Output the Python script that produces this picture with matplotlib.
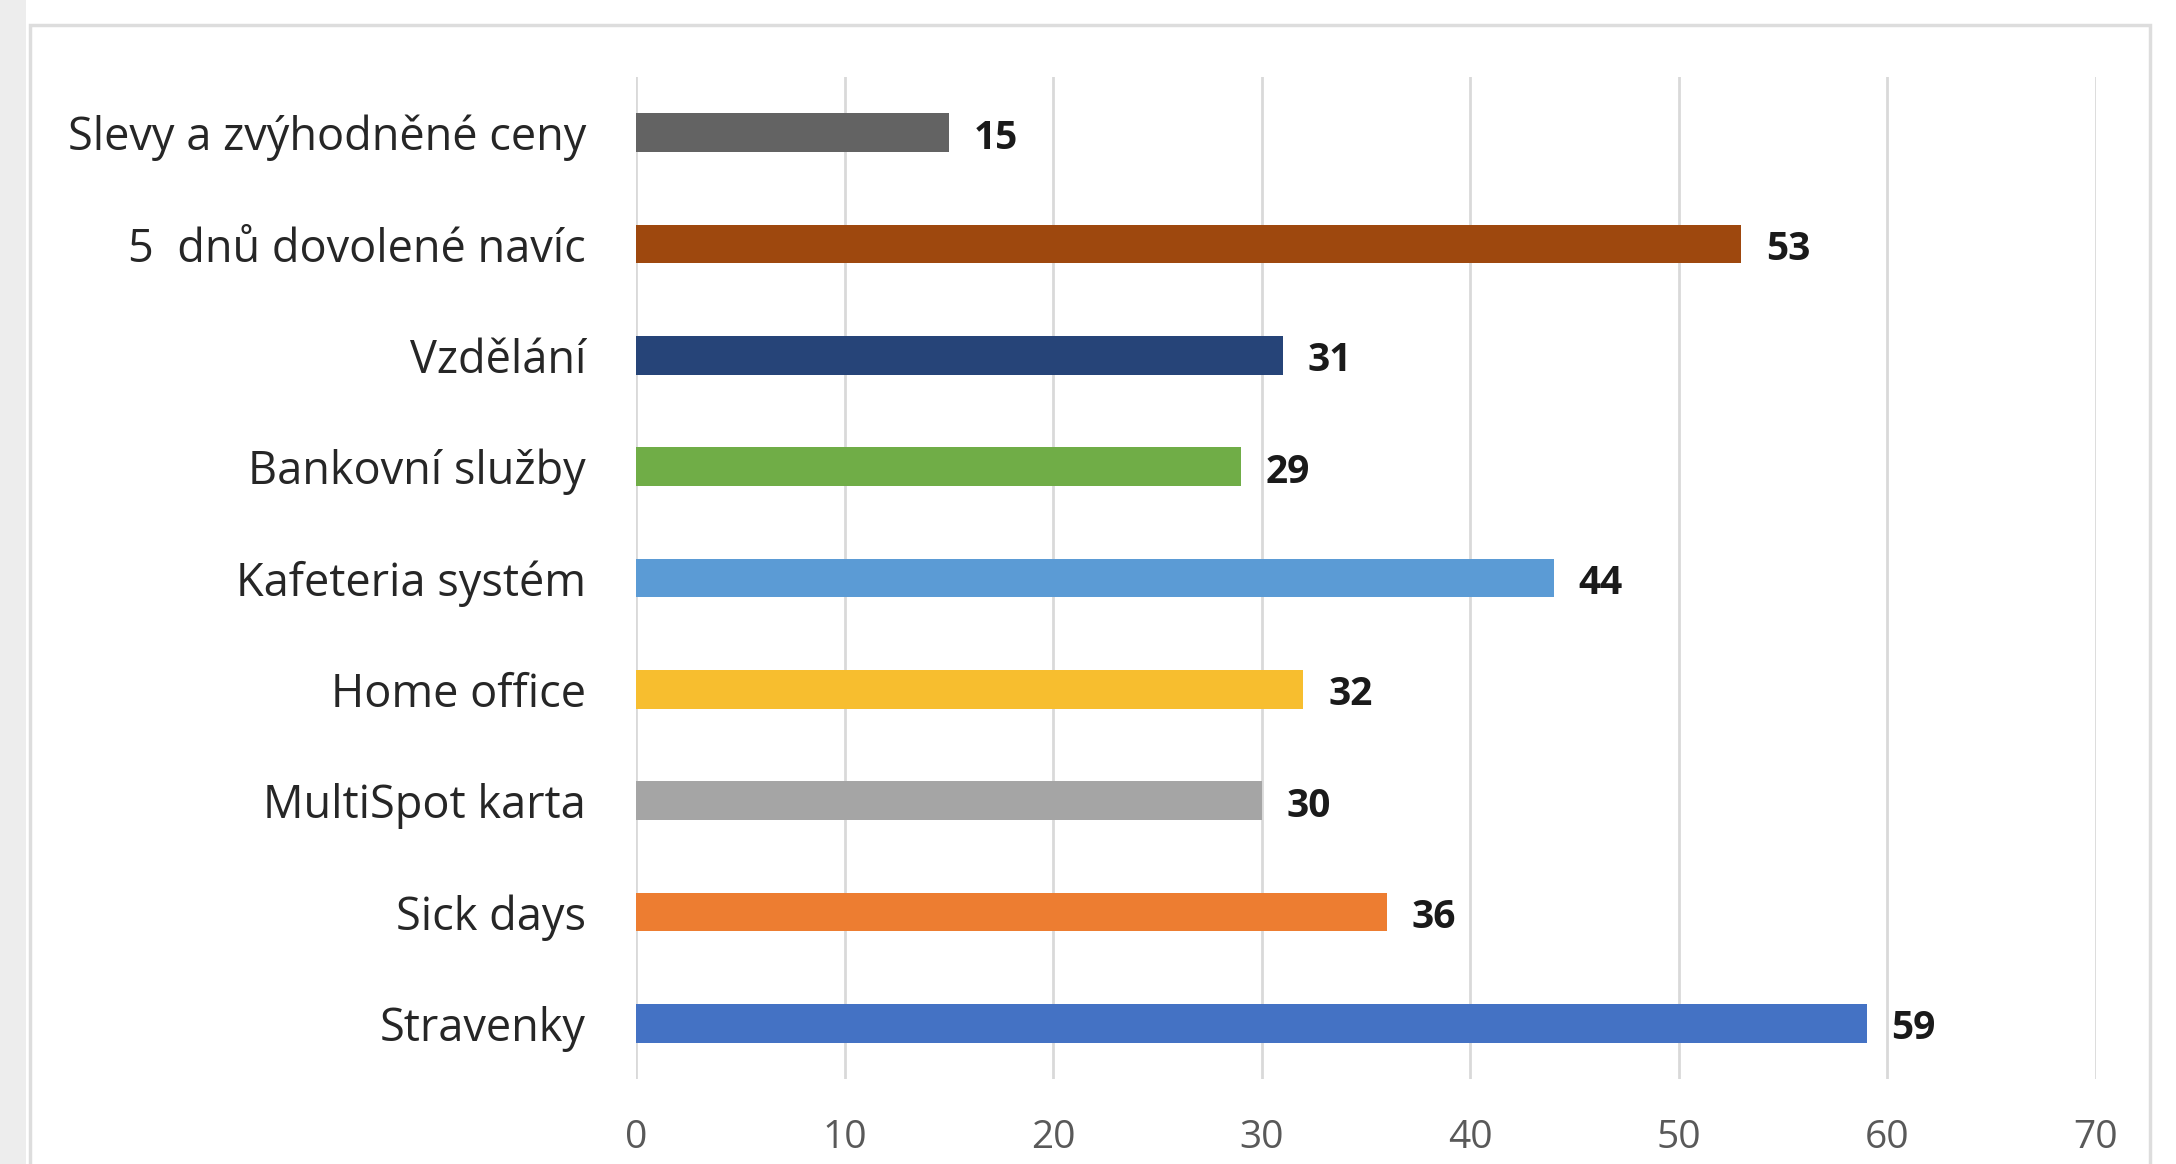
import matplotlib
matplotlib.use("Agg")
import matplotlib.pyplot as plt
from matplotlib.patches import Rectangle

categories = ["Stravenky", "Sick days", "MultiSpot karta", "Home office",
              "Kafeteria systém", "Bankovní služby", "Vzdělání",
              "5  dnů dovolené navíc", "Slevy a zvýhodněné ceny"]
values = [59, 36, 30, 32, 44, 29, 31, 53, 15]
colors = ["#4472C4", "#ED7D31", "#A5A5A5", "#F7BE2F", "#5B9BD5",
          "#70AD47", "#264478", "#9E480E", "#636363"]
xticks = [0, 10, 20, 30, 40, 50, 60, 70]

plt.rcParams['font.family'] = ['Open Sans', 'DejaVu Sans']

W, H = 2176, 1164
fig = plt.figure(figsize=(W / 100, H / 100), dpi=100)
fig.patch.set_facecolor("white")

# left gray strip and chart frame
fig.patches.append(Rectangle((0, 0), 26 / W, 1, transform=fig.transFigure,
                             facecolor="#EDEDED", edgecolor="none", zorder=-2))
fig.patches.append(Rectangle((30 / W, -0.1), (2150 - 30) / W, 1.1 - 25 / H,
                             transform=fig.transFigure, facecolor="white",
                             edgecolor="#DDDDDD", linewidth=2.5, zorder=-1))

ax = fig.add_axes([636 / W, 1 - 1079 / H, (2096 - 636) / W, (1079 - 77) / H])
ax.set_zorder(2)
ax.set_facecolor("none")
y = list(range(len(categories)))
ax.barh(y, values, height=0.35, color=colors, zorder=3)
ax.set_xlim(0, 70)
ax.set_ylim(-0.5, len(categories) - 0.5)
ax.set_xticks(xticks)
ax.set_xticklabels([str(t) for t in xticks])
ax.set_yticks(y)
ax.set_yticklabels(categories)
ax.grid(axis="x", color="#D9D9D9", linewidth=2, zorder=0)
ax.set_axisbelow(True)
for s in ax.spines.values():
    s.set_visible(False)
ax.tick_params(axis="y", length=0, pad=36, labelsize=32.5, labelcolor="#262626")
ax.tick_params(axis="x", length=0, pad=29, labelsize=28, labelcolor="#595959")

for yi, v in zip(y, values):
    ax.annotate(str(v), xy=(v, yi), xytext=(18, -4), textcoords="offset points",
                ha="left", va="center", fontsize=28, fontweight="bold",
                color="#1a1a1a")

fig.savefig("out.png", dpi=100)
